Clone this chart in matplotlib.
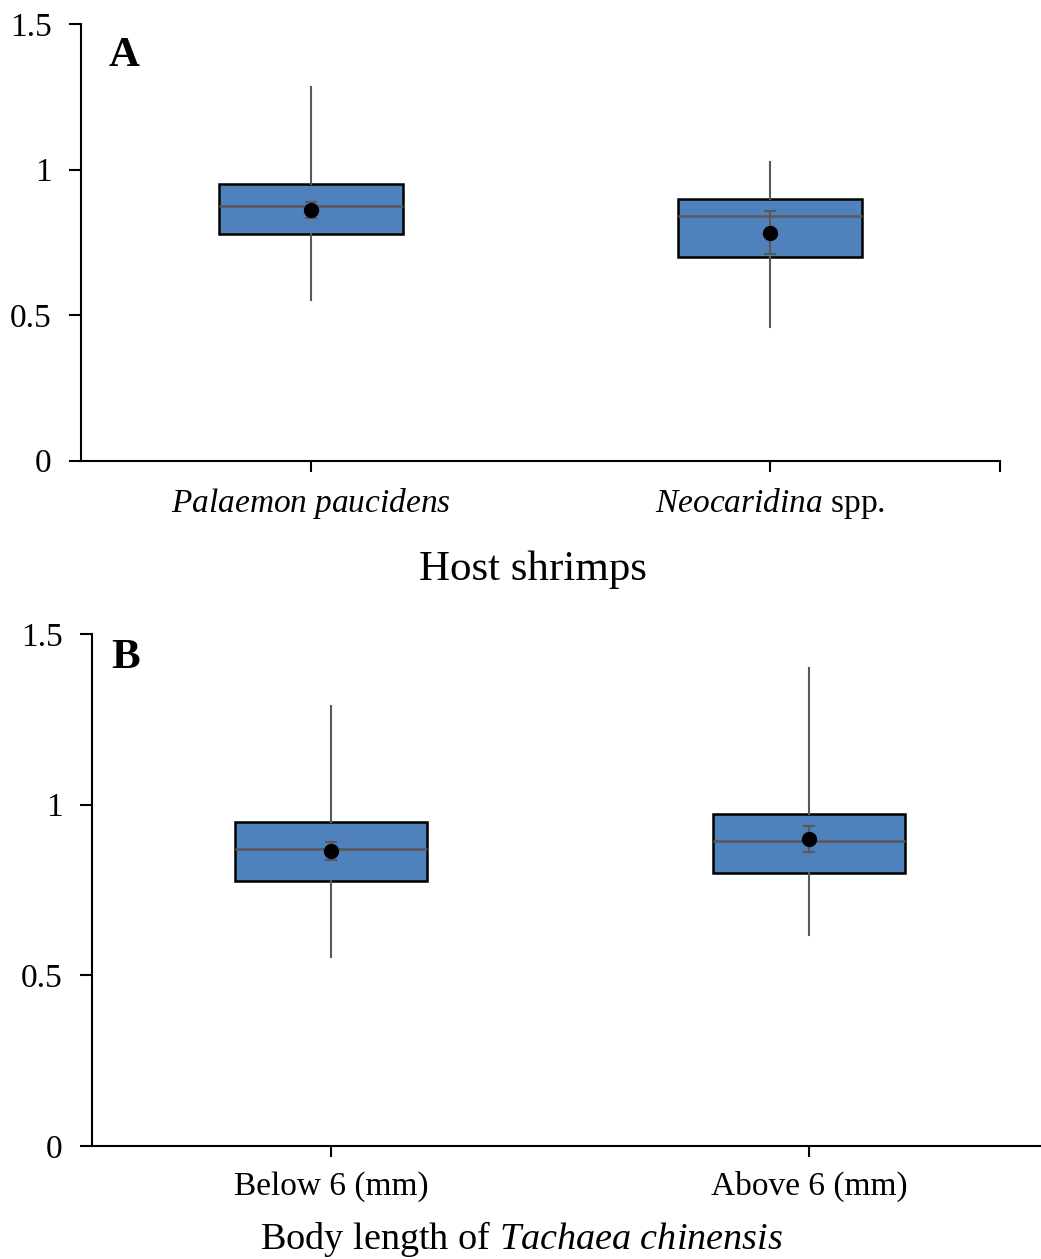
import matplotlib
matplotlib.use("Agg")
import matplotlib.pyplot as plt

plt.rcParams['font.family'] = ['Liberation Serif', 'DejaVu Serif']
plt.rcParams['mathtext.fontset'] = 'custom'
plt.rcParams['mathtext.rm'] = 'Liberation Serif'
plt.rcParams['mathtext.it'] = 'Liberation Serif:italic'

# panel A: host shrimps
host_labels = [r'$\mathit{Palaemon\ paucidens}$', r'$\mathit{Neocaridina}$ spp.']
host_whislo = [0.552, 0.458]
host_q1 = [0.778, 0.700]
host_med = [0.873, 0.842]
host_q3 = [0.950, 0.899]
host_whishi = [1.285, 1.025]
host_mean = [0.861, 0.783]
host_err = [0.027, 0.074]

# panel B: body length of T. chinensis
size_labels = ['Below 6 (mm)', 'Above 6 (mm)']
size_whislo = [0.553, 0.619]
size_q1 = [0.776, 0.801]
size_med = [0.870, 0.892]
size_q3 = [0.948, 0.973]
size_whishi = [1.288, 1.400]
size_mean = [0.864, 0.899]
size_err = [0.027, 0.037]

BLUE = '#4F81BD'
GREY = '#595959'


def draw_panel(ax, labels, whislo, q1, med, q3, whishi, mean, err):
    stats = []
    for i in range(len(labels)):
        stats.append(dict(whislo=whislo[i], q1=q1[i], med=med[i], q3=q3[i],
                          whishi=whishi[i], fliers=[]))
    pos = [0.5 + i for i in range(len(labels))]
    ax.bxp(stats, positions=pos, widths=0.4, patch_artist=True, showcaps=False,
           boxprops=dict(facecolor=BLUE, edgecolor='black', linewidth=1.8),
           medianprops=dict(color=GREY, linewidth=1.8),
           whiskerprops=dict(color=GREY, linewidth=1.5),
           manage_ticks=False, zorder=2)
    ax.errorbar(pos, mean, yerr=err, fmt='o', color='black', markersize=10,
                ecolor=GREY, elinewidth=1.5, capsize=4, capthick=1.5, zorder=4)
    ax.set_xlim(0, len(labels))
    ax.set_ylim(0, 1.5)
    ax.set_yticks([0, 0.5, 1, 1.5])
    ax.set_yticklabels(['0', '0.5', '1', '1.5'])
    ax.spines['right'].set_visible(False)
    ax.spines['top'].set_visible(False)
    ax.spines['left'].set_linewidth(1.5)
    ax.spines['bottom'].set_linewidth(1.5)
    ax.tick_params(axis='y', direction='out', length=9, width=1.5, labelsize=24, pad=12)
    ax.tick_params(axis='x', direction='out', length=8, width=1.5, labelsize=24)
    return pos


fig = plt.figure(figsize=(10.41, 12.59), dpi=100)

axA = fig.add_axes([0.0778, 0.6341, 0.8828, 0.3469])
posA = draw_panel(axA, host_labels, host_whislo, host_q1, host_med, host_q3,
                  host_whishi, host_mean, host_err)
axA.set_xticks(posA + [2])
axA.set_xticklabels(host_labels + [''])
axA.tick_params(axis='x', pad=10.5)
axA.set_xlabel('Host shrimps', fontsize=31, labelpad=21)
axA.xaxis.label.set_x(0.492)
axA.text(0.03, 0.97, 'A', transform=axA.transAxes, fontsize=31, fontweight='bold',
         va='top', ha='left')

axB = fig.add_axes([0.0884, 0.0898, 0.9183, 0.4067])
posB = draw_panel(axB, size_labels, size_whislo, size_q1, size_med, size_q3,
                  size_whishi, size_mean, size_err)
axB.set_xticks(posB)
axB.set_xticklabels(size_labels)
axB.tick_params(axis='x', pad=10)
axB.set_xlabel(r'Body length of $\mathit{Tachaea\ chinensis}$', fontsize=27.5, labelpad=12)
axB.xaxis.label.set_x(0.449)
axB.text(0.02, 0.99, 'B', transform=axB.transAxes, fontsize=31, fontweight='bold',
         va='top', ha='left')

fig.savefig('out.png', dpi=100)
